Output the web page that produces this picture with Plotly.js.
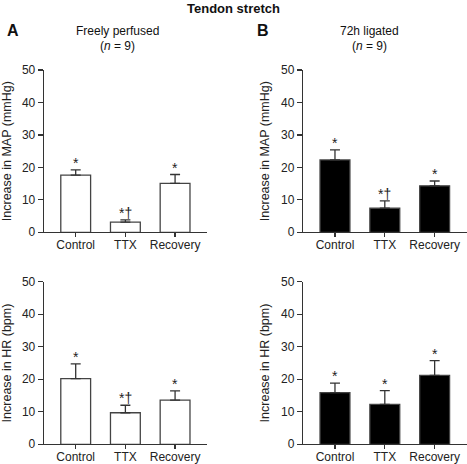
<!DOCTYPE html>
<html>
<head>
<meta charset="utf-8">
<script src="https://cdn.plot.ly/plotly-3.0.1.min.js"></script>
<style>html,body{margin:0;padding:0;background:#fff;}#chart{width:467px;height:464px;}</style>
</head>
<body>
<div id="chart"></div>
<script>
const categories = ["Control", "TTX", "Recovery"];
const mapFree = [17.6, 3.1, 15.1];
const mapFreeErr = [1.6, 0.7, 2.7];
const mapFreeSig = ["*", "*†", "*"];
const mapLig = [22.3, 7.4, 14.3];
const mapLigErr = [3.1, 2.3, 1.5];
const mapLigSig = ["*", "*†", "*"];
const hrFree = [20.2, 9.7, 13.6];
const hrFreeErr = [4.5, 2.3, 2.8];
const hrFreeSig = ["*", "*†", "*"];
const hrLig = [15.9, 12.3, 21.2];
const hrLigErr = [2.9, 4.2, 4.5];
const hrLigSig = ["*", "*", "*"];
const yTicks = [0, 10, 20, 30, 40, 50];

const font = "Liberation Sans, Arial, sans-serif";
const axisCol = "#333";

function barTrace(vals, errs, fill, xa, ya) {
  return {
    type: "bar", x: categories, y: vals, xaxis: xa, yaxis: ya,
    width: 0.6,
    marker: {color: fill, line: {color: "#444", width: 1.3}},
    error_y: {type: "data", array: errs, symmetric: false, arrayminus: [0,0,0],
              color: "#333", thickness: 1.3, width: 5},
    hoverinfo: "none", showlegend: false
  };
}

function sigAnn(vals, errs, sig, xr, yr) {
  return categories.map((c, i) => ({
    x: c, y: vals[i] + errs[i], xref: xr, yref: yr, text: sig[i],
    showarrow: false, xanchor: "center", yanchor: "bottom", yshift: -3,
    font: {family: font, size: 14, color: "#222"}
  }));
}

const data = [
  barTrace(mapFree, mapFreeErr, "#ffffff", "x", "y"),
  barTrace(mapLig, mapLigErr, "#000000", "x2", "y2"),
  barTrace(hrFree, hrFreeErr, "#ffffff", "x3", "y3"),
  barTrace(hrLig, hrLigErr, "#000000", "x4", "y4")
];

function xAx(dom, anchor) {
  return {domain: dom, anchor: anchor, range: [-0.64, 2.64], type: "category",
    showline: true, linecolor: axisCol, linewidth: 1.2, ticks: "outside", ticklen: 4,
    tickcolor: axisCol, tickwidth: 1.2, showgrid: false, zeroline: false,
    ticklabelstandoff: -3,
    tickfont: {family: font, size: 12, color: "#222"}, fixedrange: true};
}
function yAx(dom, anchor, title) {
  return {domain: dom, anchor: anchor, range: [0, 50], tickvals: yTicks,
    showline: true, linecolor: axisCol, linewidth: 1.2, ticks: "outside", ticklen: 5,
    tickcolor: axisCol, tickwidth: 1.2, showgrid: false, zeroline: false,
    tickfont: {family: font, size: 12, color: "#222"},
    title: {text: title, font: {family: font, size: 12.5, color: "#222"}, standoff: 8},
    fixedrange: true};
}

const xA = [0.094, 0.443], xB = [0.649, 0.999];
const yTop = [0.4994, 0.8491], yBot = [0.0425, 0.3929];

function paperText(text, px, py, size) {
  return {text: text, x: px / 467, y: 1 - py / 464, xref: "paper", yref: "paper",
    showarrow: false, xanchor: "center", yanchor: "middle",
    font: {family: font, size: size, color: "#111"}};
}

const annotations = [].concat(
  sigAnn(mapFree, mapFreeErr, mapFreeSig, "x", "y"),
  sigAnn(mapLig, mapLigErr, mapLigSig, "x2", "y2"),
  sigAnn(hrFree, hrFreeErr, hrFreeSig, "x3", "y3"),
  sigAnn(hrLig, hrLigErr, hrLigSig, "x4", "y4"),
  [
    paperText("<b>Tendon stretch</b>", 233, 8, 13),
    paperText("<b>A</b>", 13, 31, 16),
    paperText("<b>B</b>", 263, 31, 16),
    paperText("Freely perfused", 117, 31, 12),
    paperText("(<i>n</i> = 9)", 117, 46, 12),
    paperText("72h ligated", 369, 31, 12),
    paperText("(<i>n</i> = 9)", 369, 46, 12)
  ]
);

const layout = {
  width: 467, height: 464,
  margin: {l: 0, r: 0, t: 0, b: 0},
  paper_bgcolor: "#fff", plot_bgcolor: "rgba(0,0,0,0)",
  showlegend: false,
  xaxis: xAx(xA, "y"), yaxis: yAx(yTop, "x", "Increase in MAP (mmHg)"),
  xaxis2: xAx(xB, "y2"), yaxis2: yAx(yTop, "x2", "Increase in MAP (mmHg)"),
  xaxis3: xAx(xA, "y3"), yaxis3: yAx(yBot, "x3", "Increase in HR (bpm)"),
  xaxis4: xAx(xB, "y4"), yaxis4: yAx(yBot, "x4", "Increase in HR (bpm)"),
  annotations: annotations
};

Plotly.newPlot("chart", data, layout, {staticPlot: true, displayModeBar: false});
</script>
</body>
</html>
